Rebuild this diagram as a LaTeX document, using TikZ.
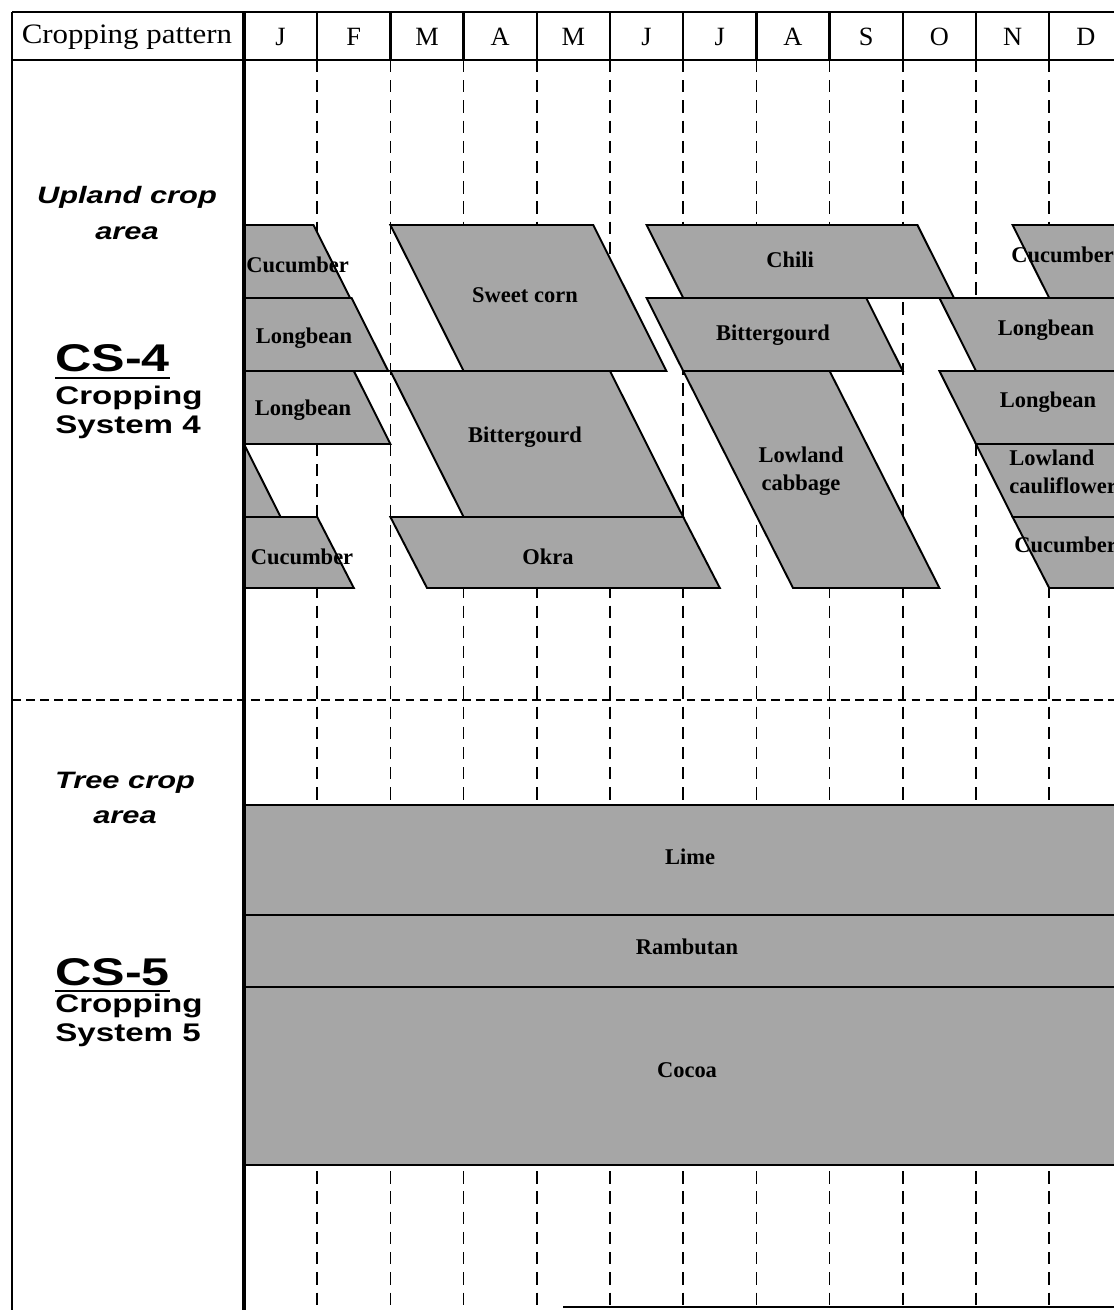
\documentclass[tikz,border=0pt]{standalone}
\usepackage{fontspec}
\setmainfont{Liberation Serif}
\newfontfamily\headfont[FakeStretch=1.1]{Liberation Serif}
\newfontfamily\sidefont[FakeStretch=1.3]{Liberation Sans}

\begin{document}
\begin{tikzpicture}[x=0.02cm, y=-0.02cm,
	frame/.style={line width=1.3pt},
	monthline/.style={line width=1pt, dash pattern=on 7pt off 4.5pt},
	zoneline/.style={line width=1pt, dash pattern=on 5pt off 3pt},
	cropbar/.style={draw, line width=1.1pt, fill=black!35},
	crop/.style={font=\fontsize{12.8}{16}\selectfont\bfseries, inner sep=0pt, align=center},
	head/.style={font=\headfont\fontsize{16}{18}\selectfont},
	month/.style={font=\fontsize{15}{17}\selectfont},
	area/.style={font=\sidefont\fontsize{13.5}{20}\selectfont\bfseries\itshape, align=center},
	system/.style={font=\sidefont\fontsize{22}{24}\selectfont\bfseries, inner sep=0pt, anchor=base west},
	sysname/.style={font=\sidefont\fontsize{14.5}{16}\selectfont\bfseries, inner sep=0pt, anchor=base west}]
	\useasboundingbox (0,0) rectangle (1114,1310);

	% month grid
	\foreach \m in {1,...,11}
		\draw[monthline] (244+73.2*\m,60) -- (244+73.2*\m,1310);

	% crop bars
	\begin{scope}
		\clip (244,0) rectangle (1114,1310);
		\draw[cropbar] (240,225) -- (313.5,225) -- (350.1,298) -- (240,298) -- cycle;
		\draw[cropbar] (240,298) -- (351.6,298) -- (388.2,371) -- (240,371) -- cycle;
		\draw[cropbar] (240,371) -- (353.8,371) -- (390.4,444) -- (240,444) -- cycle;
		\draw[cropbar] (240,444) -- (244,444) -- (280.6,517) -- (240,517) -- cycle;
		\draw[cropbar] (240,517) -- (317.2,517) -- (353.8,588) -- (240,588) -- cycle;
		\draw[cropbar] (390.4,225) -- (593.2,225) -- (666.4,371) -- (463.6,371) -- cycle;
		\draw[cropbar] (390.4,371) -- (610,371) -- (683.2,517) -- (463.6,517) -- cycle;
		\draw[cropbar] (390.4,517) -- (683.2,517) -- (719.8,588) -- (427,588) -- cycle;
		\draw[cropbar] (646.6,225) -- (917.4,225) -- (954,298) -- (683.2,298) -- cycle;
		\draw[cropbar] (646.6,298) -- (866.2,298) -- (902.8,371) -- (683.2,371) -- cycle;
		\draw[cropbar] (683.2,371) -- (829.6,371) -- (939.4,588) -- (793,588) -- cycle;
		\draw[cropbar] (1012.6,225) -- (1130,225) -- (1130,298) -- (1049.2,298) -- cycle;
		\draw[cropbar] (939.4,298) -- (1130,298) -- (1130,371) -- (976,371) -- cycle;
		\draw[cropbar] (939.4,371) -- (1130,371) -- (1130,444) -- (976,444) -- cycle;
		\draw[cropbar] (976,444) -- (1130,444) -- (1130,517) -- (1012.6,517) -- cycle;
		\draw[cropbar] (1012.6,517) -- (1130,517) -- (1130,588) -- (1049.2,588) -- cycle;
		% tree crops
		\draw[cropbar] (240,805) rectangle (1130,915);
		\draw[cropbar] (240,915) rectangle (1130,987);
		\draw[cropbar] (240,987) rectangle (1130,1165);
	\end{scope}

	% frame
	\draw[frame] (12,12) -- (1114,12);
	\draw[frame] (12,60) -- (1114,60);
	\draw[frame] (12,12) -- (12,1310);
	\draw[line width=1.8pt] (244,12) -- (244,1310);
	\foreach \m in {1,...,11}
		\draw[frame] (244+73.2*\m,12) -- (244+73.2*\m,60);
	\draw[zoneline] (12,700) -- (1114,700);
	\draw[frame] (563,1307) -- (1114,1307);

	% header
	\node[head] (head) at (127,37) {Cropping pattern};
	\foreach \mon [count=\i from 0] in {J,F,M,A,M,J,J,A,S,O,N,D}
		\node[month] (m\i) at (280.6+73.2*\i,37) {\mon};

	% systems
	\node[area] (upland) at (127,213) {Upland crop\\area};
	\node[system] (cs4) at (55,372) {CS-4};
	\draw[line width=1.5pt] ([yshift=-3.5pt]cs4.base west) -- ([yshift=-3.5pt]cs4.base east);
	\node[sysname] (cs4a) at (55,405) {Cropping};
	\node[sysname] (cs4b) at (55,434) {System 4};

	\node[area] (tree) at (125,798) {Tree crop\\area};
	\node[system] (cs5) at (55,985) {CS-5};
	\draw[line width=1.5pt] ([yshift=-3.5pt]cs5.base west) -- ([yshift=-3.5pt]cs5.base east);
	\node[sysname] (cs5a) at (55,1012) {Cropping};
	\node[sysname] (cs5b) at (55,1041) {System 5};

	% crop names
	\node[crop, anchor=west] (cuc1) at (246,265) {Cucumber};
	\node[crop] (lb1) at (304,338) {Longbean};
	\node[crop] (lb2) at (303,410) {Longbean};
	\node[crop] (cuc2) at (302,557) {Cucumber};
	\node[crop] (swc) at (525,295) {Sweet corn};
	\node[crop] (bg1) at (525,437) {Bittergourd};
	\node[crop] (okra) at (548,557) {Okra};
	\node[crop] (chili) at (790,260) {Chili};
	\node[crop] (bg2) at (773,335) {Bittergourd};
	\node[crop] (cab) at (801,471) {Lowland\\cabbage};
	\node[crop, anchor=west] (cuc3) at (1011,255) {Cucumber};
	\node[crop] (lb3) at (1046,330) {Longbean};
	\node[crop] (lb4) at (1048,402) {Longbean};
	\node[crop, anchor=west, align=left] (caul) at (1009,472) {Lowland\\cauliflower};
	\node[crop, anchor=west] (cuc4) at (1014,545) {Cucumber};
	\node[crop] (lime) at (690,857) {Lime};
	\node[crop] (ramb) at (687,947) {Rambutan};
	\node[crop] (cocoa) at (687,1070) {Cocoa};
\end{tikzpicture}
\end{document}
